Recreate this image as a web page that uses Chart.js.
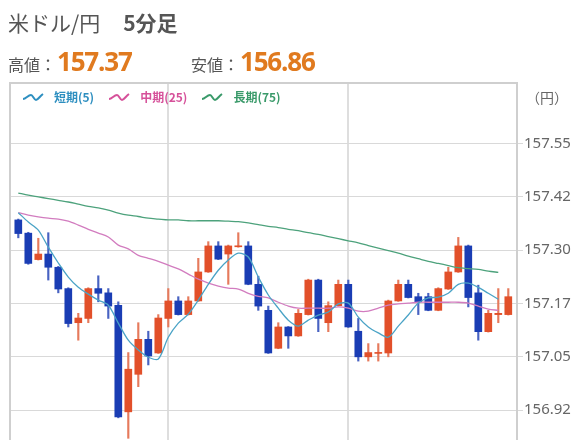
<!DOCTYPE html>
<html lang="ja">
<head>
<meta charset="utf-8">
<script src="https://cdn.jsdelivr.net/npm/chart.js@4.4.1/dist/chart.umd.min.js"></script>
<style>
body { margin: 0; background: #fff; font-family: "Noto Sans CJK JP", "Noto Sans", sans-serif; }
#wrap { position: relative; width: 576px; height: 440px; overflow: hidden; }
#chart { position: absolute; left: 0; top: 0; }
.title { position: absolute; left: 8px; top: 12px; font-size: 21px; line-height: 21px; color: #555; white-space: nowrap; }
.title b { font-weight: 600; margin-left: 23px; }
.hl { position: absolute; top: 48px; height: 27px; display: flex; align-items: baseline; white-space: nowrap; }
.hl span { font-size: 16px; line-height: 27px; color: #555; }
.hl strong { font-family: "Open Sans", "Noto Sans", sans-serif; font-size: 26px; line-height: 27px; letter-spacing: -1.2px; color: #e07a1f; font-weight: 700; margin-left: 1px; }
.legend { position: absolute; top: 89px; left: 22px; display: flex; font-size: 12px; line-height: 16px; font-weight: 600; white-space: nowrap; }
.legend div { display: flex; align-items: center; margin-right: 14px; }
.legend svg { margin-right: 10px; }
.unit { position: absolute; left: 526px; top: 88px; font-size: 14px; line-height: 18px; color: #666; }
</style>
</head>
<body>
<div id="wrap">
  <canvas id="chart" width="576" height="440"></canvas>
  <div class="title">米ドル/円<b>5分足</b></div>
  <div class="hl" style="left:8px"><span>高値：</span><strong>157.37</strong></div>
  <div class="hl" style="left:191px"><span>安値：</span><strong>156.86</strong></div>
  <div class="legend">
    <div style="color:#2e8fc0"><svg width="22" height="10"><path d="M1 7 C4 7 6 3 9 3 C11 3 12 8 14 8 C16 8 18 4 21 2" fill="none" stroke="#2e8fc0" stroke-width="2"/></svg>短期(5)</div>
    <div style="color:#d6519a"><svg width="22" height="10"><path d="M1 7 C4 7 6 3 9 3 C11 3 12 8 14 8 C16 8 18 4 21 2" fill="none" stroke="#d6519a" stroke-width="2"/></svg>中期(25)</div>
    <div style="color:#3a9a6a"><svg width="22" height="10"><path d="M1 7 C4 7 6 3 9 3 C11 3 12 8 14 8 C16 8 18 4 21 2" fill="none" stroke="#3a9a6a" stroke-width="2"/></svg>長期(75)</div>
  </div>
  <div class="unit">（円）</div>
</div>
<script>
// 5-minute candles, oldest first
const opens = [157.366, 157.335, 157.273, 157.286, 157.255, 157.205, 157.125, 157.135, 157.205, 157.195,
  157.166, 156.916, 157.004, 157.086, 157.054, 157.135, 157.176, 157.144, 157.176, 157.244,
  157.305, 157.286, 157.303, 157.305, 157.215, 157.154, 157.065, 157.115, 157.094, 157.144,
  157.225, 157.125, 157.165, 157.215, 157.105, 157.045, 157.053, 157.054, 157.176, 157.215,
  157.186, 157.186, 157.154, 157.204, 157.244, 157.305, 157.195, 157.104, 157.144, 157.144];
const highs = [157.368, 157.337, 157.323, 157.336, 157.257, 157.207, 157.147, 157.207, 157.235, 157.205,
  157.174, 157.055, 157.125, 157.105, 157.144, 157.205, 157.186, 157.186, 157.276, 157.315,
  157.315, 157.307, 157.336, 157.315, 157.234, 157.164, 157.125, 157.116, 157.156, 157.227,
  157.227, 157.174, 157.225, 157.225, 157.135, 157.076, 157.076, 157.178, 157.225, 157.225,
  157.194, 157.194, 157.207, 157.255, 157.325, 157.307, 157.213, 157.154, 157.205, 157.205];
const lows = [157.324, 157.262, 157.272, 157.225, 157.195, 157.115, 157.084, 157.125, 157.174, 157.135,
  156.902, 156.854, 156.975, 157.026, 157.053, 157.115, 157.143, 157.143, 157.175, 157.243,
  157.273, 157.215, 157.302, 157.214, 157.154, 157.053, 157.064, 157.065, 157.093, 157.143,
  157.104, 157.104, 157.164, 157.114, 157.035, 157.035, 157.035, 157.045, 157.175, 157.183,
  157.144, 157.153, 157.153, 157.203, 157.243, 157.162, 157.084, 157.103, 157.125, 157.143];
const closes = [157.334, 157.264, 157.286, 157.255, 157.204, 157.123, 157.136, 157.205, 157.194, 157.164,
  156.904, 157.016, 157.086, 157.047, 157.136, 157.176, 157.144, 157.176, 157.244, 157.305,
  157.274, 157.305, 157.305, 157.215, 157.164, 157.054, 157.115, 157.094, 157.147, 157.225,
  157.135, 157.165, 157.215, 157.115, 157.045, 157.055, 157.055, 157.176, 157.215, 157.184,
  157.174, 157.154, 157.205, 157.244, 157.305, 157.184, 157.104, 157.147, 157.147, 157.186];

// moving averages (last candle still forming, no value yet)
const maShort = [157.383, 157.361, 157.342, 157.302, 157.265, 157.232, 157.208, 157.192, 157.178, 157.166,
  157.124, 157.084, 157.061, 157.044, 157.040, 157.091, 157.124, 157.145, 157.178, 157.215,
  157.248, 157.272, 157.288, 157.279, 157.232, 157.190, 157.159, 157.131, 157.117, 157.131,
  157.143, 157.150, 157.169, 157.171, 157.138, 157.115, 157.101, 157.091, 157.117, 157.143,
  157.171, 157.183, 157.185, 157.194, 157.215, 157.218, 157.208, 157.194, 157.180, null];
const maMid = [157.383, 157.377, 157.373, 157.370, 157.368, 157.363, 157.354, 157.344, 157.335, 157.326,
  157.307, 157.298, 157.283, 157.276, 157.269, 157.260, 157.251, 157.239, 157.227, 157.218,
  157.211, 157.206, 157.204, 157.194, 157.187, 157.183, 157.173, 157.164, 157.159, 157.159,
  157.159, 157.159, 157.162, 157.159, 157.152, 157.152, 157.159, 157.166, 157.169, 157.171,
  157.173, 157.173, 157.173, 157.173, 157.173, 157.171, 157.164, 157.157, 157.154, null];
const maLong = [157.429, 157.424, 157.420, 157.416, 157.412, 157.408, 157.403, 157.398, 157.394, 157.389,
  157.382, 157.377, 157.374, 157.370, 157.368, 157.366, 157.366, 157.364, 157.364, 157.364,
  157.364, 157.363, 157.362, 157.359, 157.355, 157.351, 157.348, 157.344, 157.341, 157.336,
  157.332, 157.327, 157.322, 157.317, 157.312, 157.306, 157.300, 157.294, 157.288, 157.281,
  157.275, 157.269, 157.264, 157.259, 157.254, 157.252, 157.250, 157.246, 157.243, null];

const yTickValues = [156.92, 157.045, 157.17, 157.295, 157.42, 157.545];
const yTickLabels = ['156.92', '157.05', '157.17', '157.30', '157.42', '157.55'];
const xGridAt = [15, 33];

const upColor = '#e2502a';
const downColor = '#1a3db4';
const candleColors = opens.map((o, i) => closes[i] >= opens[i] ? upColor : downColor);
const wickColors = opens.map((o, i) => closes[i] >= opens[i] ? '#e67a5c' : '#4862c2');

const toPoints = arr => arr.map((v, i) => ({ x: i, y: v }));

// light gray frame round the plot
const frame = {
    id: 'frame',
    beforeDatasetsDraw(chart) {
        const a = chart.chartArea;
        const ctx = chart.ctx;
        ctx.save();
        ctx.strokeStyle = '#cfcfcf';
        ctx.lineWidth = 2;
        ctx.strokeRect(a.left, a.top, a.right - a.left, a.bottom - a.top + 10);
        ctx.restore();
    }
};

new Chart(document.getElementById('chart'), {
    data: {
        datasets: [
            { type: 'line', data: toPoints(maShort), borderColor: '#4aa3c6', borderWidth: 1.3, pointRadius: 0, tension: 0.3 },
            { type: 'line', data: toPoints(maMid), borderColor: '#d27cbf', borderWidth: 1.3, pointRadius: 0, tension: 0.3 },
            { type: 'line', data: toPoints(maLong), borderColor: '#4da27c', borderWidth: 1.3, pointRadius: 0, tension: 0.3 },
            {
                type: 'bar',
                data: opens.map((o, i) => ({ x: i, y: [opens[i], closes[i]] })),
                backgroundColor: candleColors,
                barThickness: 7,
                minBarLength: 1,
                grouped: false
            },
            {
                type: 'bar',
                data: opens.map((o, i) => ({ x: i, y: [lows[i], highs[i]] })),
                backgroundColor: wickColors,
                barThickness: 1.5,
                grouped: false
            }
        ]
    },
    options: {
        responsive: false,
        animation: false,
        devicePixelRatio: 1,
        layout: { padding: { top: 83, left: 10, right: 0, bottom: 0 } },
        plugins: { legend: { display: false }, tooltip: { enabled: false } },
        scales: {
            x: {
                type: 'linear',
                offset: false,
                min: -0.83,
                max: 49.87,
                afterBuildTicks: scale => { scale.ticks = xGridAt.map(v => ({ value: v })); },
                afterFit: scale => { scale.height = 0; scale.paddingLeft = 0; scale.paddingRight = 0; },
                ticks: { display: false },
                grid: { offset: false, color: '#dedede', lineWidth: 2, drawTicks: false },
                border: { display: false }
            },
            y: {
                type: 'linear',
                position: 'right',
                min: 156.85,
                max: 157.687,
                afterBuildTicks: scale => { scale.ticks = yTickValues.map(v => ({ value: v })); },
                afterFit: scale => { scale.width = 59; scale.paddingTop = 0; scale.paddingBottom = 0; },
                ticks: {
                    autoSkip: false,
                    padding: 1,
                    color: '#666',
                    font: { family: 'Noto Sans', size: 15 },
                    callback: (value, index) => yTickLabels[index]
                },
                grid: { color: '#d9d9d9', lineWidth: 1, tickLength: 6 },
                border: { display: false }
            }
        }
    },
    plugins: [frame]
});
</script>
</body>
</html>
